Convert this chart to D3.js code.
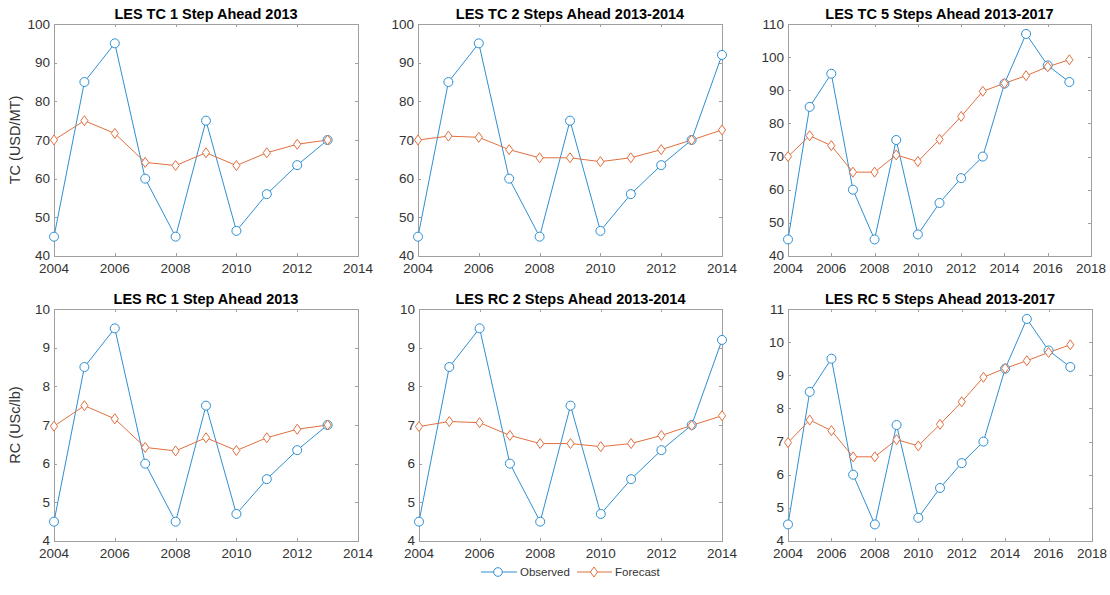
<!DOCTYPE html>
<html><head><meta charset="utf-8">
<script src="https://cdn.jsdelivr.net/npm/d3@7"></script>
<style>body{margin:0;background:#fff;} text{font-family:"Liberation Sans",Arial,sans-serif;}</style>
</head><body>
<svg id="c" width="1110" height="595"></svg>
<script>
const yearsTC1 = [2004,2005,2006,2007,2008,2009,2010,2011,2012,2013];
const yearsTC2 = [2004,2005,2006,2007,2008,2009,2010,2011,2012,2013,2014];
const yearsTC5 = [2004,2005,2006,2007,2008,2009,2010,2011,2012,2013,2014,2015,2016,2017];

const tcObserved = [45,85,95,60,45,75,46.5,56,63.5,70,92,107,97.5,92.5];
const rcObserved = [4.5,8.5,9.5,6.0,4.5,7.5,4.7,5.6,6.35,7.0,9.2,10.7,9.75,9.25];

const tcForecast1 = [70,75,71.7,64.2,63.4,66.7,63.4,66.7,68.9,70];
const tcForecast2 = [70,71,70.7,67.5,65.4,65.4,64.4,65.4,67.5,70,72.6];
const tcForecast5 = [70,76.3,73.3,65.3,65.3,70.5,68.5,75.2,82.1,89.7,92.1,94.4,97.1,99.2];

const rcForecast1 = [6.97,7.5,7.16,6.42,6.33,6.67,6.34,6.67,6.89,7.0];
const rcForecast2 = [6.96,7.09,7.06,6.73,6.52,6.52,6.44,6.52,6.73,6.99,7.24];
const rcForecast5 = [6.97,7.65,7.33,6.54,6.54,7.06,6.87,7.52,8.2,8.94,9.21,9.44,9.69,9.92];

const titles = ["LES TC 1 Step Ahead 2013","LES TC 2 Steps Ahead 2013-2014","LES TC 5 Steps Ahead 2013-2017",
                "LES RC 1 Step Ahead 2013","LES RC 2 Steps Ahead 2013-2014","LES RC 5 Steps Ahead 2013-2017"];
const yLabels = ["TC (USD/MT)","RC (USc/lb)"];
const legendLabels = ["Observed","Forecast"];

const colObs = "#2f8fd2", colFc = "#e0703f", axCol = "#333333", boxCol = "#a0a0a0";

const panels = [
  {years:yearsTC1, obs:tcObserved, fc:tcForecast1, xd:[2004,2014], yd:[40,100], yt:d3.range(40,101,10), x0:54, x1:358, y0:24, y1:256, title:titles[0], ylab:yLabels[0]},
  {years:yearsTC2, obs:tcObserved, fc:tcForecast2, xd:[2004,2014], yd:[40,100], yt:d3.range(40,101,10), x0:418, x1:722, y0:24, y1:256, title:titles[1]},
  {years:yearsTC5, obs:tcObserved, fc:tcForecast5, xd:[2004,2018], yd:[40,110], yt:d3.range(40,111,10), x0:788, x1:1091, y0:24, y1:256, title:titles[2]},
  {years:yearsTC1, obs:rcObserved, fc:rcForecast1, xd:[2004,2014], yd:[4,10], yt:d3.range(4,11,1), x0:54, x1:358, y0:309, y1:541, title:titles[3], ylab:yLabels[1]},
  {years:yearsTC2, obs:rcObserved, fc:rcForecast2, xd:[2004,2014], yd:[4,10], yt:d3.range(4,11,1), x0:419, x1:722, y0:309, y1:541, title:titles[4]},
  {years:yearsTC5, obs:rcObserved, fc:rcForecast5, xd:[2004,2018], yd:[4,11], yt:d3.range(4,12,1), x0:788, x1:1092, y0:309, y1:541, title:titles[5]}
];

const svg = d3.select("#c");
const diamond = (cx,cy)=>`M${cx},${cy-5}L${cx+3.6},${cy}L${cx},${cy+5}L${cx-3.6},${cy}Z`;

panels.forEach(p=>{
  const x = d3.scaleLinear().domain(p.xd).range([p.x0,p.x1]);
  const y = d3.scaleLinear().domain(p.yd).range([p.y1,p.y0]);
  const g = svg.append("g");
  const xt = d3.range(p.xd[0], p.xd[1]+1, 2);
  g.append("rect").attr("x",p.x0+0.5).attr("y",p.y0+0.5).attr("width",p.x1-p.x0).attr("height",p.y1-p.y0)
    .attr("fill","none").attr("stroke",boxCol).attr("stroke-width",1);
  const tl = 3;
  xt.forEach(v=>{
    const xx = Math.round(x(v))+0.5;
    g.append("line").attr("x1",xx).attr("x2",xx).attr("y1",p.y1).attr("y2",p.y1-tl).attr("stroke",boxCol);
    g.append("line").attr("x1",xx).attr("x2",xx).attr("y1",p.y0).attr("y2",p.y0+tl).attr("stroke",boxCol);
    g.append("text").attr("x",x(v)).attr("y",p.y1+17).attr("text-anchor","middle").attr("font-size",13.5).attr("fill",axCol).text(v);
  });
  p.yt.forEach(v=>{
    const yy = Math.round(y(v))+0.5;
    g.append("line").attr("x1",p.x0).attr("x2",p.x0+tl).attr("y1",yy).attr("y2",yy).attr("stroke",boxCol);
    g.append("line").attr("x1",p.x1).attr("x2",p.x1-tl).attr("y1",yy).attr("y2",yy).attr("stroke",boxCol);
    g.append("text").attr("x",p.x0-4).attr("y",y(v)+(v===p.yd[0]?3.5:4.5)).attr("text-anchor","end").attr("font-size",13.5).attr("fill",axCol).text(v);
  });
  g.append("text").attr("x",(p.x0+p.x1)/2).attr("y",p.y0-5).attr("text-anchor","middle").attr("font-size",14.5)
    .attr("font-weight","bold").attr("fill","#000").text(p.title);
  if(p.ylab){
    g.append("text").attr("transform",`translate(20,${(p.y0+p.y1)/2}) rotate(-90)`).attr("text-anchor","middle")
      .attr("font-size",14.5).attr("fill",axCol).text(p.ylab);
  }
  const obs = p.years.map((yr,i)=>[yr,p.obs[i]]);
  const fc = p.years.map((yr,i)=>[yr,p.fc[i]]);
  const line = d3.line().x(d=>x(d[0])).y(d=>y(d[1]));
  g.append("path").attr("d",line(obs)).attr("fill","none").attr("stroke",colObs).attr("stroke-width",1);
  g.append("path").attr("d",line(fc)).attr("fill","none").attr("stroke",colFc).attr("stroke-width",1);
  g.selectAll(".o").data(obs).enter().append("circle").attr("cx",d=>x(d[0])).attr("cy",d=>y(d[1])).attr("r",4.5)
    .attr("fill","#fff").attr("stroke",colObs).attr("stroke-width",1);
  g.selectAll(".f").data(fc).enter().append("path").attr("d",d=>diamond(x(d[0]),y(d[1])))
    .attr("fill","#fff").attr("stroke",colFc).attr("stroke-width",1);
});

const lg = svg.append("g");
const ly = 572;
lg.append("line").attr("x1",481).attr("x2",517).attr("y1",ly).attr("y2",ly).attr("stroke",colObs);
lg.append("circle").attr("cx",498).attr("cy",ly).attr("r",4.3).attr("fill","#fff").attr("stroke",colObs);
lg.append("text").attr("x",520).attr("y",ly+4).attr("font-size",11.5).attr("fill",axCol).text(legendLabels[0]);
lg.append("line").attr("x1",577).attr("x2",612).attr("y1",ly).attr("y2",ly).attr("stroke",colFc);
lg.append("path").attr("d",diamond(594,ly)).attr("fill","#fff").attr("stroke",colFc);
lg.append("text").attr("x",615).attr("y",ly+4).attr("font-size",11.5).attr("fill",axCol).text(legendLabels[1]);
</script>
</body></html>
